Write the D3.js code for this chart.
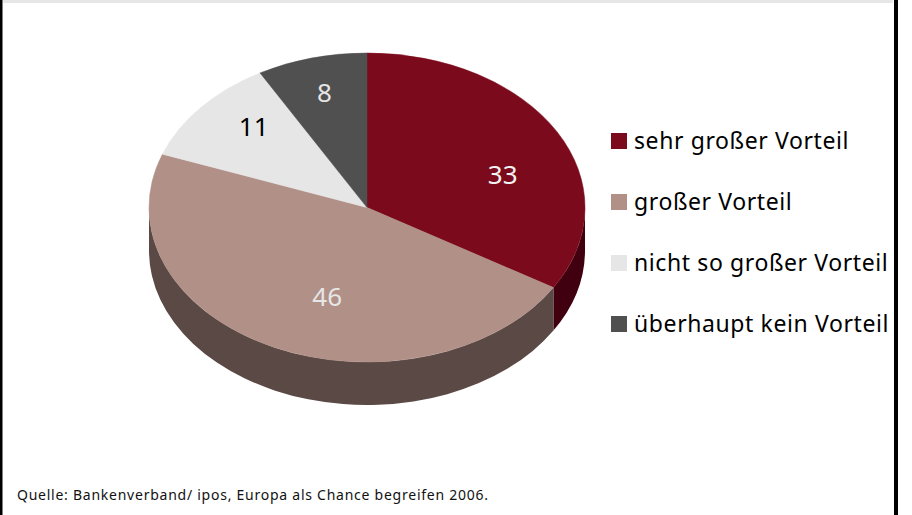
<!DOCTYPE html>
<html>
<head>
<meta charset="utf-8">
<script src="https://cdn.jsdelivr.net/npm/d3@7"></script>
<style>
    html, body { margin: 0; padding: 0; background: #fff; }
    svg { display: block; font-family: 'Noto Sans', 'Open Sans', sans-serif; }
</style>
</head>
<body>
<div class="chart"></div>
<script>
var categories = ['sehr großer Vorteil', 'großer Vorteil', 'nicht so großer Vorteil', 'überhaupt kein Vorteil'];
var values = [33, 46, 11, 8];
var topColors = ['#7b0a1d', '#b09087', '#e6e6e6', '#505050'];
var sideColors = ['#40000f', '#5b4945', '#9a9a9a', '#2e2e2e'];
var labelColors = ['#f2f2f2', '#e6e6e6', '#000000', '#e6e6e6'];
var source = 'Quelle: Bankenverband/ ipos, Europa als Chance begreifen 2006.';

(function() {
    var options = {
        width: 912,
        height: 515,
        cx: 367,
        cy: 207.5,
        rx: 218,
        ry: 154.5,
        depth: 43,
        legendX: 611,
        legendY: 141,
        legendStep: 61,
        swatch: 16
    };

    // label placement inside the tilted pie: radius fraction and angle nudge (deg)
    var labelRadius = [0.66, 0.6, 0.74, 0.77];
    var labelNudge = [10, -8, 5, 0];

    var svg = d3.select('.chart')
        .append('svg')
        .attr('width', options.width)
        .attr('height', options.height);

    // frame
    svg.append('rect')
        .attr('x', 3).attr('y', 0)
        .attr('width', 890).attr('height', 3)
        .attr('fill', '#e6e6e6');
    svg.append('rect')
        .attr('x', 0).attr('y', 0)
        .attr('width', 2.5).attr('height', options.height)
        .attr('fill', '#000');
    svg.append('rect')
        .attr('x', 894).attr('y', 0)
        .attr('width', 4).attr('height', options.height)
        .attr('fill', '#000');

    var pie = d3.pie().sort(null)(values);

    var point = function(a, dy) {
        return [options.cx + options.rx * Math.sin(a), options.cy - options.ry * Math.cos(a) + (dy || 0)];
    };

    var topPath = function(d) {
        var p0 = point(d.startAngle);
        var p1 = point(d.endAngle);
        var large = d.endAngle - d.startAngle > Math.PI ? 1 : 0;
        return 'M' + options.cx + ',' + options.cy +
            'L' + p0 + 'A' + options.rx + ',' + options.ry + ' 0 ' + large + ' 1 ' + p1 + 'Z';
    };

    var sidePath = function(d) {
        var a0 = Math.max(d.startAngle, Math.PI / 2);
        var a1 = Math.min(d.endAngle, Math.PI * 1.5);
        if (a0 >= a1) return null;
        var h = options.depth;
        return 'M' + point(a0) +
            'A' + options.rx + ',' + options.ry + ' 0 0 1 ' + point(a1) +
            'L' + point(a1, h) +
            'A' + options.rx + ',' + options.ry + ' 0 0 0 ' + point(a0, h) + 'Z';
    };

    var chart = svg.append('g');

    chart.selectAll('.side')
        .data(pie.filter(function(d) { return sidePath(d) !== null; }))
        .enter().append('path')
        .attr('class', 'side')
        .attr('d', sidePath)
        .attr('fill', function(d) { return sideColors[d.index]; });

    chart.selectAll('.top')
        .data(pie)
        .enter().append('path')
        .attr('class', 'top')
        .attr('d', topPath)
        .attr('fill', function(d) { return topColors[d.index]; })
        .attr('stroke', function(d) { return topColors[d.index]; })
        .attr('stroke-width', 0.5);

    chart.selectAll('.label')
        .data(pie)
        .enter().append('text')
        .attr('class', 'label')
        .attr('text-anchor', 'middle')
        .attr('dominant-baseline', 'central')
        .attr('font-size', 26)
        .attr('fill', function(d) { return labelColors[d.index]; })
        .attr('transform', function(d) {
            var a = (d.startAngle + d.endAngle) / 2 + labelNudge[d.index] * Math.PI / 180;
            var r = labelRadius[d.index];
            var x = options.cx + options.rx * r * Math.sin(a);
            var y = options.cy - options.ry * r * Math.cos(a);
            return 'translate(' + x + ',' + y + ')';
        })
        .text(function(d) { return d.data; });

    var legend = svg.append('g')
        .selectAll('g')
        .data(categories)
        .enter().append('g')
        .attr('transform', function(d, i) {
            return 'translate(' + options.legendX + ',' + (options.legendY + i * options.legendStep) + ')';
        });

    legend.append('rect')
        .attr('x', 0)
        .attr('y', -options.swatch / 2)
        .attr('width', options.swatch)
        .attr('height', options.swatch)
        .attr('fill', function(d, i) { return topColors[i]; });

    legend.append('text')
        .attr('x', 23)
        .attr('y', 8)
        .attr('font-size', 23)
        .attr('letter-spacing', 0.6)
        .attr('fill', '#000')
        .text(function(d) { return d; });

    svg.append('text')
        .attr('x', 17)
        .attr('y', 500)
        .attr('font-size', 14)
        .attr('letter-spacing', 0.75)
        .attr('fill', '#111')
        .text(source);
})();
</script>
</body>
</html>
